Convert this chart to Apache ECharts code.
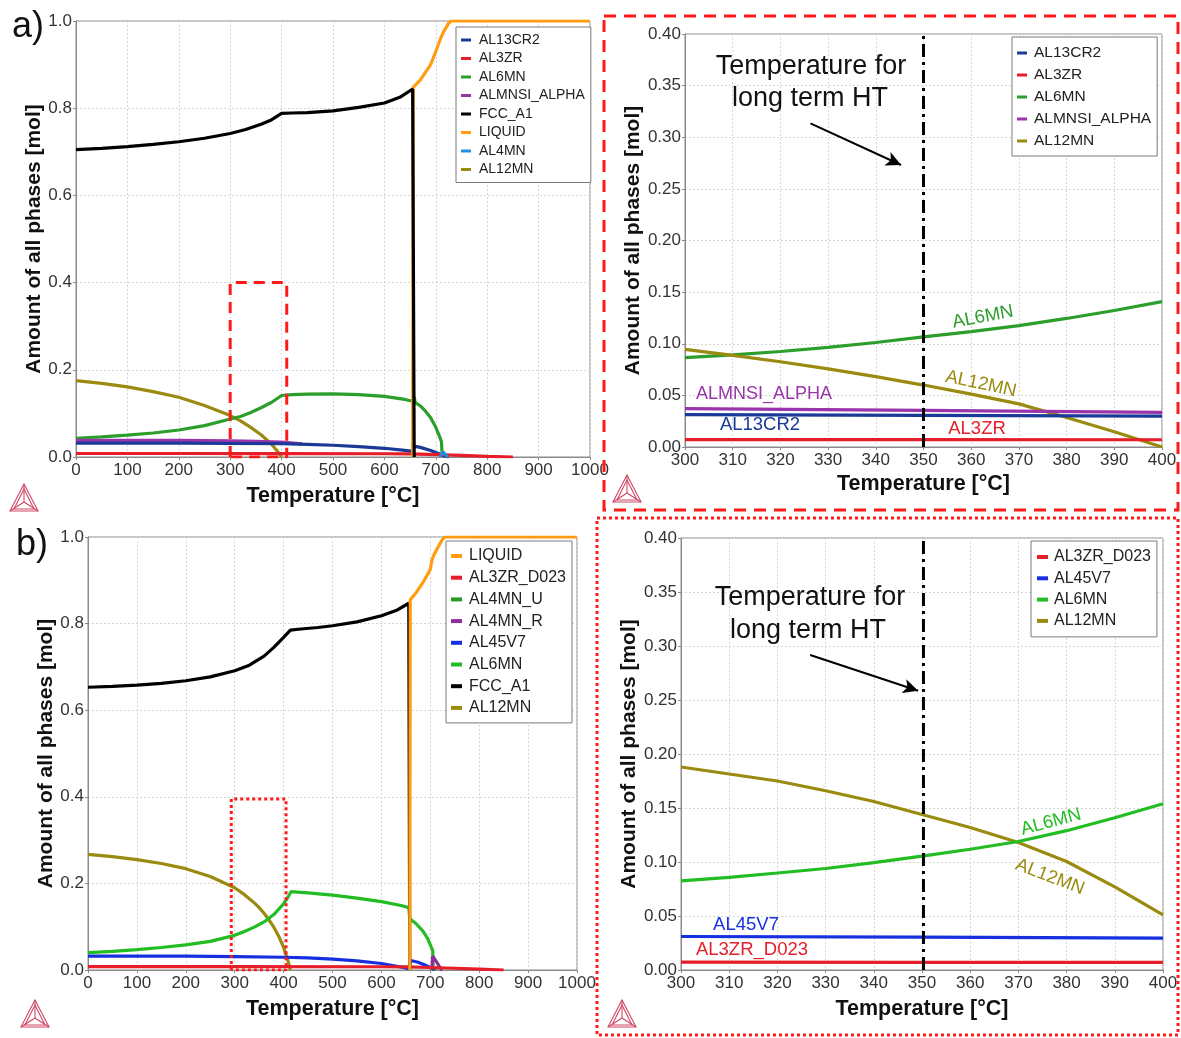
<!DOCTYPE html>
<html>
<head>
<meta charset="utf-8">
<title>Amount of all phases vs temperature</title>
<script src="https://cdn.jsdelivr.net/npm/echarts@6/dist/echarts.min.js"></script>
<style>
  html, body { margin: 0; padding: 0; background: #fff; }
  #chart { width: 1181px; height: 1038px; }
</style>
</head>
<body>
<div id="chart"></div>
<script>
// ---------- phase amounts, alloy a (0-1000 °C) ----------
const aFull_AL13CR2 = [[0,0.032],[100,0.032],[200,0.032],[300,0.031],[400,0.0305],[450,0.029],[500,0.027],[550,0.024],[600,0.02],[640,0.015],[655,0.013],[657,0.025],[670,0.022],[690,0.015],[705,0.008],[715,0.003],[725,0]];
const aFull_AL3ZR = [[0,0.008],[200,0.008],[400,0.0078],[600,0.0075],[650,0.007],[700,0.0055],[750,0.0035],[800,0.0015],[850,0]];
const aFull_AL6MN = [[0,0.043],[50,0.046],[100,0.05],[150,0.055],[200,0.062],[250,0.072],[300,0.087],[320,0.093],[340,0.102],[360,0.113],[380,0.125],[400,0.141],[420,0.143],[450,0.144],[500,0.145],[550,0.143],[600,0.139],[640,0.132],[655,0.128],[658,0.138],[660,0.125],[670,0.117],[680,0.105],[690,0.09],[700,0.068],[708,0.045],[711,0.035],[712,0.012],[718,0]];
const aFull_ALMNSI_ALPHA = [[0,0.038],[100,0.038],[200,0.038],[300,0.037],[350,0.036],[400,0.034],[440,0.03]];
const aFull_FCC_A1 = [[0,0.705],[50,0.708],[100,0.712],[150,0.717],[200,0.723],[250,0.731],[300,0.742],[330,0.751],[360,0.763],[380,0.773],[400,0.788],[420,0.789],[450,0.79],[500,0.794],[550,0.802],[600,0.812],[630,0.825],[655,0.844],[657,0.844],[658,0]];
const aFull_LIQUID = [[655,0],[656,0.848],[670,0.865],[690,0.9],[700,0.93],[710,0.962],[715,0.975],[725,0.995],[730,1.0],[1000,1.0]];
const aFull_AL4MN = [[708,0],[714,0.012],[718,0.006],[724,0]];
const aFull_AL12MN = [[0,0.175],[50,0.169],[100,0.161],[150,0.15],[200,0.137],[250,0.118],[300,0.095],[320,0.083],[340,0.068],[360,0.051],[380,0.03],[390,0.016],[395,0.008],[400,0]];
const aFull_box = [[300,0],[300,0.4],[410,0.4],[410,0],[300,0]];

// ---------- alloy a, detail 300-400 °C ----------
const aZoom_AL13CR2 = [[300,0.0313],[350,0.0307],[400,0.030]];
const aZoom_AL3ZR = [[300,0.0072],[350,0.0071],[400,0.007]];
const aZoom_AL6MN = [[300,0.0865],[310,0.0893],[320,0.0925],[330,0.0965],[340,0.1012],[350,0.1066],[360,0.1118],[370,0.1176],[380,0.1245],[390,0.1322],[400,0.1408]];
const aZoom_ALMNSI_ALPHA = [[300,0.0372],[350,0.0355],[400,0.0335]];
const aZoom_AL12MN = [[300,0.0945],[310,0.0887],[320,0.0826],[330,0.0757],[340,0.0682],[350,0.0600],[360,0.0512],[370,0.0418],[380,0.0285],[390,0.0148],[400,0.0]];
const aZoom_HT = [[350,0],[350,0.4]];
const aZoom_arrow = [[326.3,0.3135],[345.3,0.2731]];

// ---------- phase amounts, alloy b (0-1000 °C) ----------
const bFull_LIQUID = [[658,0],[659,0.855],[670,0.87],[685,0.895],[700,0.925],[703,0.945],[706,0.955],[715,0.975],[725,0.995],[730,1.0],[1000,1.0]];
const bFull_AL3ZR_D023 = [[0,0.008],[300,0.008],[600,0.0075],[650,0.007],[700,0.0058],[750,0.004],[800,0.002],[850,0]];
const bFull_AL4MN_U = [[704,0],[708,0.006],[712,0]];
const bFull_AL4MN_R = [[703,0],[705,0.032],[712,0.02],[722,0.002],[725,0]];
const bFull_AL45V7 = [[0,0.032],[100,0.032],[200,0.032],[300,0.031],[400,0.0295],[450,0.028],[500,0.025],[550,0.021],[600,0.015],[640,0.007],[656,0.003],[660,0.022],[675,0.018],[690,0.011],[703,0.004],[708,0]];
const bFull_AL6MN = [[0,0.04],[50,0.043],[100,0.047],[150,0.052],[200,0.058],[250,0.066],[300,0.08],[320,0.089],[340,0.099],[360,0.111],[380,0.128],[400,0.153],[410,0.17],[415,0.181],[450,0.178],[500,0.173],[550,0.166],[600,0.158],[640,0.149],[656,0.144],[658,0.118],[670,0.108],[685,0.09],[695,0.072],[703,0.05],[705,0.045],[706,0]];
const bFull_FCC_A1 = [[0,0.653],[50,0.655],[100,0.658],[150,0.662],[200,0.668],[250,0.677],[300,0.691],[330,0.704],[360,0.725],[380,0.745],[400,0.768],[414,0.785],[430,0.787],[470,0.791],[500,0.795],[550,0.804],[600,0.818],[630,0.83],[656,0.847],[658,0]];
const bFull_AL12MN = [[0,0.267],[50,0.262],[100,0.255],[150,0.246],[200,0.234],[250,0.216],[300,0.19],[320,0.174],[340,0.155],[350,0.144],[360,0.131],[370,0.116],[380,0.099],[390,0.078],[400,0.052],[408,0.025],[414,0]];
const bFull_box = [[293,0],[293,0.395],[405,0.395],[405,0],[293,0]];

// ---------- alloy b, detail 300-400 °C ----------
const bZoom_AL3ZR_D023 = [[300,0.0072],[350,0.0071],[400,0.007]];
const bZoom_AL45V7 = [[300,0.031],[350,0.0305],[400,0.0295]];
const bZoom_AL6MN = [[300,0.0825],[310,0.0858],[320,0.0898],[330,0.094],[340,0.0995],[350,0.1055],[360,0.1118],[370,0.119],[380,0.129],[390,0.141],[400,0.154]];
const bZoom_AL12MN = [[300,0.188],[310,0.1815],[320,0.175],[330,0.166],[340,0.156],[350,0.144],[360,0.132],[370,0.118],[380,0.1005],[390,0.077],[400,0.051]];
const bZoom_HT = [[350.3,0],[350.3,0.4]];
const bZoom_arrow = [[326.8,0.2917],[349.2,0.2585]];

// ---------- axis tick settings ----------
const fullTempTicks = { min: 0, max: 1000, interval: 100 };
const fullAmountTicks = { min: 0, max: 1, interval: 0.2 };
const zoomTempTicks = { min: 300, max: 400, interval: 10 };
const zoomAmountTicks = { min: 0, max: 0.4, interval: 0.05 };

const C = {
  navy: '#1b3a98', red: '#e61e2a', greenA: '#2b9e2b', purple: '#9a34aa',
  black: '#000000', orange: '#ff9c12', lightBlue: '#1e90e0', olive: '#9a8b10',
  blue: '#1630e0', greenB: '#22bd22', greenU: '#279a27', purpleR: '#8e2e9e'
};

const FONT = '"Liberation Sans", Arial, Helvetica, sans-serif';
const grids = [
  { left: 76, top: 21, width: 514, height: 436 },
  { left: 685, top: 34, width: 477, height: 413 },
  { left: 88, top: 537, width: 489, height: 433 },
  { left: 681, top: 538, width: 482, height: 432 }
].map(g => Object.assign({ show: true, borderColor: '#8a8a8a', borderWidth: 1, backgroundColor: '#fff', containLabel: false }, g));

function xAx(idx, ticks, gap) {
  return Object.assign({
    type: 'value', gridIndex: idx, name: 'Temperature [°C]', nameLocation: 'middle', nameGap: gap,
    nameTextStyle: { fontFamily: FONT, fontWeight: 'bold', fontSize: 21.5, color: '#111' },
    axisLine: { show: true, lineStyle: { color: '#8a8a8a' } },
    axisTick: { show: true, length: 3, lineStyle: { color: '#8a8a8a' } },
    axisLabel: { fontFamily: FONT, fontSize: 17, color: '#333', margin: 5, formatter: v => String(v) },
    splitLine: { show: true, lineStyle: { color: '#d6d6d6', type: [2, 2] } }
  }, ticks);
}
function yAx(idx, ticks, gap, digits) {
  return Object.assign({
    type: 'value', gridIndex: idx, name: 'Amount of all phases [mol]', nameLocation: 'middle', nameGap: gap,
    nameTextStyle: { fontFamily: FONT, fontWeight: 'bold', fontSize: 21, color: '#111' },
    axisLine: { show: true, lineStyle: { color: '#8a8a8a' } },
    axisTick: { show: true, length: 3, lineStyle: { color: '#8a8a8a' } },
    axisLabel: { fontFamily: FONT, fontSize: 17, color: '#333', margin: 4, formatter: v => v.toFixed(digits) },
    splitLine: { show: true, lineStyle: { color: '#d6d6d6', type: [2, 2] } }
  }, ticks);
}

function curve(panel, name, data, color, width) {
  return {
    type: 'line', name, data, xAxisIndex: panel, yAxisIndex: panel,
    showSymbol: false, symbol: 'none', animation: false, silent: true, clip: true,
    lineStyle: { color, width: width || 3.2 }, itemStyle: { color }
  };
}
function boxSeries(panel, data, dash) {
  return {
    type: 'line', name: 'zoom frame', data, xAxisIndex: panel, yAxisIndex: panel, z: 5,
    showSymbol: false, symbol: 'none', animation: false, silent: true,
    lineStyle: { color: '#ff1a1a', width: 3, type: dash }
  };
}
function htSeries(panel, data, arrow) {
  return {
    type: 'line', name: 'HT temperature', data, xAxisIndex: panel, yAxisIndex: panel, z: 4,
    showSymbol: false, symbol: 'none', animation: false, silent: true,
    lineStyle: { color: '#000', width: 3, type: [13, 5, 3, 5] },
    markLine: {
      silent: true, animation: false, symbol: ['none', 'arrow'], symbolSize: [11, 15],
      label: { show: false },
      lineStyle: { color: '#000', width: 2, type: 'solid' },
      data: [[{ coord: arrow[0] }, { coord: arrow[1] }]]
    }
  };
}

function legend(left, top, fontSize, lineH, gap, iconW, iconH, textPad, items, pad) {
  return {
    orient: 'vertical', left, top, selectedMode: false, icon: 'rect',
    itemWidth: iconW, itemHeight: iconH, itemGap: gap, padding: pad,
    backgroundColor: '#fff', borderColor: '#7a7a7a', borderWidth: 1, borderRadius: 0,
    textStyle: { fontFamily: FONT, fontSize, lineHeight: lineH, color: '#222', padding: [0, 0, 0, textPad] },
    data: items.map(([name, color]) => ({ name, itemStyle: { color } }))
  };
}

const series = [
  // alloy a, full range
  curve(0, 'AL12MN', aFull_AL12MN, C.olive),
  curve(0, 'AL6MN', aFull_AL6MN, C.greenA),
  curve(0, 'ALMNSI_ALPHA', aFull_ALMNSI_ALPHA, C.purple),
  curve(0, 'AL13CR2', aFull_AL13CR2, C.navy),
  curve(0, 'AL3ZR', aFull_AL3ZR, C.red),
  curve(0, 'AL4MN', aFull_AL4MN, C.lightBlue),
  curve(0, 'LIQUID', aFull_LIQUID, C.orange),
  curve(0, 'FCC_A1', aFull_FCC_A1, C.black),
  boxSeries(0, aFull_box, [11, 7]),
  // alloy a, detail
  curve(1, 'AL6MN', aZoom_AL6MN, C.greenA),
  curve(1, 'AL12MN', aZoom_AL12MN, C.olive),
  curve(1, 'ALMNSI_ALPHA', aZoom_ALMNSI_ALPHA, C.purple),
  curve(1, 'AL13CR2', aZoom_AL13CR2, C.navy),
  curve(1, 'AL3ZR', aZoom_AL3ZR, C.red),
  htSeries(1, aZoom_HT, aZoom_arrow),
  // alloy b, full range
  curve(2, 'AL12MN', bFull_AL12MN, C.olive),
  curve(2, 'AL6MN', bFull_AL6MN, C.greenB),
  curve(2, 'AL4MN_U', bFull_AL4MN_U, C.greenU),
  curve(2, 'AL45V7', bFull_AL45V7, C.blue),
  curve(2, 'AL4MN_R', bFull_AL4MN_R, C.purpleR),
  curve(2, 'AL3ZR_D023', bFull_AL3ZR_D023, C.red),
  curve(2, 'FCC_A1', bFull_FCC_A1, C.black),
  curve(2, 'LIQUID', bFull_LIQUID, C.orange),
  boxSeries(2, bFull_box, [3, 3]),
  // alloy b, detail
  curve(3, 'AL12MN', bZoom_AL12MN, C.olive),
  curve(3, 'AL6MN', bZoom_AL6MN, C.greenB),
  curve(3, 'AL45V7', bZoom_AL45V7, C.blue),
  curve(3, 'AL3ZR_D023', bZoom_AL3ZR_D023, C.red),
  htSeries(3, bZoom_HT, bZoom_arrow)
];

// Thermo-Calc style triangle mark
function logo(x, y) {
  const s = { stroke: '#d04866', lineWidth: 1.1, fill: null };
  const cx = 14, cy = 18;
  return {
    type: 'group', x, y, silent: true, children: [
      { type: 'polygon', shape: { points: [[0, 27], [14, 0], [28, 27]] }, style: s },
      { type: 'polygon', shape: { points: [[4, 25], [14, 5], [24, 25]] }, style: s },
      { type: 'line', shape: { x1: 0, y1: 27, x2: cx, y2: cy }, style: s },
      { type: 'line', shape: { x1: 28, y1: 27, x2: cx, y2: cy }, style: s },
      { type: 'line', shape: { x1: 14, y1: 0, x2: cx, y2: cy }, style: s }
    ]
  };
}
function label(text, x, y, color, size, rotDeg) {
  return {
    type: 'text', x, y, rotation: (rotDeg || 0) * Math.PI / 180, silent: true, z: 10,
    style: { text, fill: color, font: `${size}px ${FONT}`, textAlign: 'center', textVerticalAlign: 'middle' }
  };
}

const graphics = [
  label('a)', 28, 27, '#111', 36),
  label('b)', 32, 545, '#111', 36),
  logo(10, 484), logo(613, 475), logo(21, 1000), logo(608, 1000),
  label('Temperature for', 811, 67, '#111', 27),
  label('long term HT', 810, 99, '#111', 27),
  label('Temperature for', 810, 598, '#111', 27),
  label('long term HT', 808, 631, '#111', 27),
  label('AL6MN', 983, 317, C.greenA, 18.5, 10.5),
  label('AL12MN', 981, 384, C.olive, 18.5, -12),
  label('ALMNSI_ALPHA', 764, 394, C.purple, 18),
  label('AL13CR2', 760, 425, C.navy, 18.5),
  label('AL3ZR', 977, 429, C.red, 18.5),
  label('AL6MN', 1051, 822, C.greenB, 18.5, 15),
  label('AL12MN', 1050, 877, C.olive, 18.5, -21),
  label('AL45V7', 746, 925, C.blue, 18.5),
  label('AL3ZR_D023', 752, 950, C.red, 18.5),
  { type: 'rect', silent: true, z: 20, shape: { x: 604, y: 16, width: 574, height: 494 },
    style: { fill: null, stroke: '#ff1a1a', lineWidth: 3, lineDash: [12, 8] } },
  { type: 'rect', silent: true, z: 20, shape: { x: 597, y: 518, width: 581, height: 517 },
    style: { fill: null, stroke: '#ff1a1a', lineWidth: 3, lineDash: [3, 3] } }
];

const chart = echarts.init(document.getElementById('chart'), null, { renderer: 'canvas' });
chart.setOption({
  backgroundColor: '#fff',
  animation: false,
  grid: grids,
  xAxis: [xAx(0, fullTempTicks, 28), xAx(1, zoomTempTicks, 26), xAx(2, fullTempTicks, 28), xAx(3, zoomTempTicks, 28)],
  yAxis: [yAx(0, fullAmountTicks, 31, 1), yAx(1, zoomAmountTicks, 37, 2), yAx(2, fullAmountTicks, 31, 1), yAx(3, zoomAmountTicks, 39, 2)],
  legend: [
    legend(456, 27, 14, 14, 4.5, 10, 3, 3,
      [['AL13CR2', C.navy], ['AL3ZR', C.red], ['AL6MN', C.greenA], ['ALMNSI_ALPHA', C.purple], ['FCC_A1', C.black], ['LIQUID', C.orange], ['AL4MN', C.lightBlue], ['AL12MN', C.olive]],
      [6, 6, 6, 5]),
    legend(1012, 37, 15.5, 15, 6, 10, 3, 2,
      [['AL13CR2', C.navy], ['AL3ZR', C.red], ['AL6MN', C.greenA], ['ALMNSI_ALPHA', C.purple], ['AL12MN', C.olive]],
      [8, 6, 7, 5]),
    legend(446, 541, 16, 16, 5.7, 11, 4, 2,
      [['LIQUID', C.orange], ['AL3ZR_D023', C.red], ['AL4MN_U', C.greenU], ['AL4MN_R', C.purpleR], ['AL45V7', C.blue], ['AL6MN', C.greenB], ['FCC_A1', C.black], ['AL12MN', C.olive]],
      [7, 6, 7, 5]),
    legend(1031, 541, 16, 16, 5.3, 11, 4, 1,
      [['AL3ZR_D023', C.red], ['AL45V7', C.blue], ['AL6MN', C.greenB], ['AL12MN', C.olive]],
      [8, 6, 8, 6])
  ],
  series,
  graphic: graphics
});
</script>
</body>
</html>
